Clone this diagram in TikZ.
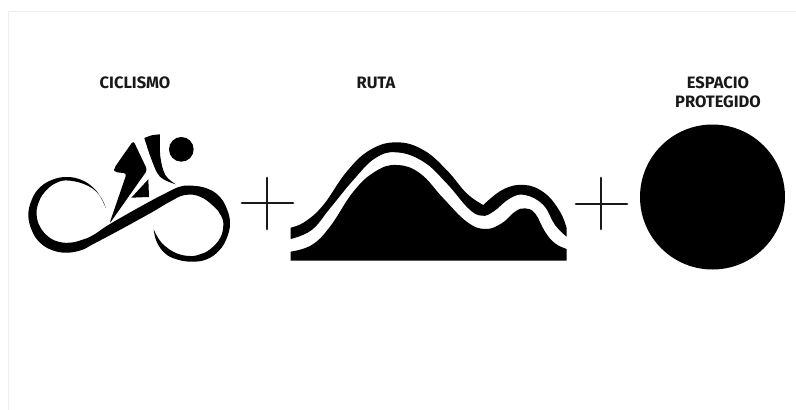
\documentclass[tikz,border=0pt]{standalone}
\usepackage{fontspec}
\setmainfont{Fira Sans}
\definecolor{framegray}{RGB}{238,238,238}
\begin{document}
\begin{tikzpicture}[x=1pt, y=-1pt,
			masthead/.style={font=\fontsize{16.5}{19}\selectfont\bfseries, align=center, text=black!90},
			plusline/.style={draw, line width=2.8pt, line cap=round, black!90}]
			%Bildbereich
			\useasboundingbox (0,0) rectangle (796,410);
			\draw[framegray, line width=1pt] (8,410) -- (8,11.5) -- (796,11.5);
			%Beschriftung
			\node[masthead] (ciclismo) at (135,83) {CICLISMO};
			\node[masthead] (ruta) at (376,83) {RUTA};
			\node[masthead] (espacio) at (718,92.5) {ESPACIO\\PROTEGIDO};
			%Plus
			\draw[plusline] (242,203) -- (293,203);
			\draw[plusline] (267,178) -- (267,229);
			\draw[plusline] (576,204) -- (627,204);
			\draw[plusline] (601,178) -- (601,229);
			%Kreis
			\fill (712.5,197) circle (72.5);
			% Radfahrer
			\begin{scope}[shift={(10,120)}, scale=1/3]
				\fill (514,88) circle (37);
				\fill plot[smooth, tension=.6] coordinates {(403,54) (425,46) (450,43)} -- plot[smooth, tension=.6] coordinates {(450,43) (451,110) (466,165) (497,193)} -- plot[smooth, tension=.6] coordinates {(497,193) (450,170) (425,120) (403,54)} -- cycle;
				\fill[rounded corners=3pt] (370,62) -- (412,150) -- (298,312) -- (350,160) -- (313,156) -- (312,145) -- cycle;
				\fill (415,178) -- (417,231) -- (364,233) -- cycle;
				% Schleife
				\fill plot[smooth, tension=.7] coordinates {(288,265) (272,232) (251,204) (215,180) (170,171) (125,180) (88,204) (65,240) (55,285) (65,330) (88,366) (125,390) (170,398) (215,390) (250,372) (320,335) (420,280) (480,245) (525,225) (570,230) (610,258) (632,285) (640,315) (630,355) (600,388) (570,403) (540,408) (500,400) (465,378) (445,355) (431,328)}
					-- plot[smooth, tension=.7] coordinates {(431,328) (440,365) (465,400) (500,418) (545,425) (590,418) (627,392) (650,355) (660,310) (650,265) (627,228) (590,205) (545,197) (510,200) (470,218) (400,255) (300,312) (250,345) (215,360) (180,368) (145,365) (115,350) (90,320) (80,285) (85,250) (105,215) (140,188) (180,182) (235,198) (270,228) (288,265)}
					-- cycle;
			\end{scope}
			% Berg
			\begin{scope}[shift={(280,130)}, scale=1/3]
				\fill plot[smooth, tension=.7] coordinates {(32,293) (75,275) (130,225) (200,125) (270,60) (350,37) (430,60) (500,120) (560,190) (610,225)}
					-- plot[smooth, tension=.7] coordinates {(610,225) (670,178) (735,165) (795,190) (840,245) (860,295)}
					-- (860,320)
					-- plot[smooth, tension=.7] coordinates {(860,320) (825,285) (790,225) (735,195) (690,205) (640,245) (605,257) (565,235) (500,160) (430,95) (350,67) (285,85) (220,150) (150,235) (95,300) (32,327)}
					-- cycle;
				\fill plot[smooth, tension=.7] coordinates {(32,365) (95,345) (150,290) (220,185) (285,125) (350,105) (420,130) (490,205) (560,275) (615,297) (665,280) (705,245) (735,235) (765,250) (795,305) (825,340) (860,357)}
					-- (860,392) -- (32,392) -- cycle;
			\end{scope}
		\end{tikzpicture}
\end{document}
